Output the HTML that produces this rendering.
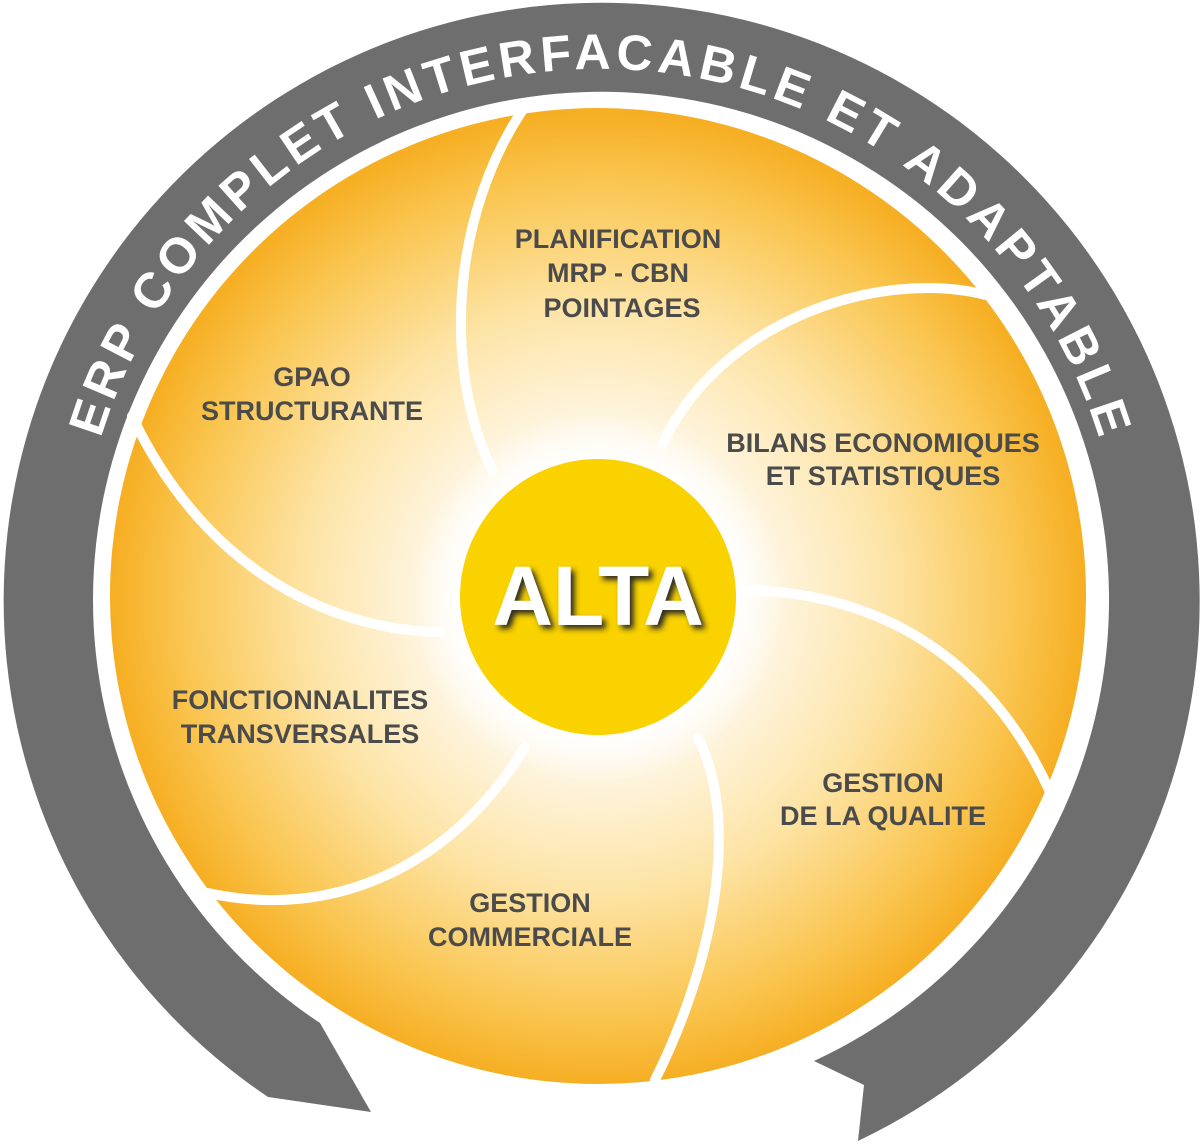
<!DOCTYPE html>
<html><head><meta charset="utf-8"><style>
html,body{margin:0;padding:0;background:#fff;width:1200px;height:1148px;overflow:hidden}
svg{display:block}
.l{font-family:"Liberation Sans",Arial,sans-serif;font-weight:bold;font-size:27px;fill:#4b4b4b;text-anchor:middle}
</style></head><body>
<svg width="1200" height="1148" viewBox="0 0 1200 1148" xmlns="http://www.w3.org/2000/svg">
<defs>
<radialGradient id="g" cx="598" cy="598" r="488" gradientUnits="userSpaceOnUse">
<stop offset="0" stop-color="#ffffff"/>
<stop offset="0.3" stop-color="#fffaf0"/>
<stop offset="0.6" stop-color="#fde4a6"/>
<stop offset="0.85" stop-color="#fac652"/>
<stop offset="1" stop-color="#f6ae22"/>
</radialGradient>
<radialGradient id="halo" cx="598" cy="598" r="185" gradientUnits="userSpaceOnUse">
<stop offset="0.7" stop-color="#fff" stop-opacity="1"/>
<stop offset="1" stop-color="#fff" stop-opacity="0"/>
</radialGradient>
<filter id="sh" x="-20%" y="-20%" width="140%" height="140%">
<feDropShadow dx="4" dy="4" stdDeviation="3" flood-color="#222" flood-opacity="0.95"/>
</filter>
<path id="tp" d="M 96 455 A 522 522 0 0 1 1104 455"/>
</defs>
<path d="M268 1097 A598 598 0 1 1 858 1141 L864 1085 L814 1061 A508 508 0 1 0 320 1023 L371 1112 Z" fill="#6e6e6e"/>
<text font-family="Liberation Sans,Arial,sans-serif" font-weight="bold" font-size="50" fill="#fff">
<textPath href="#tp" startOffset="50%" text-anchor="middle" textLength="1330" lengthAdjust="spacing">ERP COMPLET INTERFACABLE ET ADAPTABLE</textPath>
</text>
<circle cx="598" cy="596" r="488" fill="url(#g)"/>
<g fill="none" stroke="#fff" stroke-width="10" stroke-linecap="round">
<path d="M524 108 C455 210 440 360 492 470"/>
<path d="M986 295 C880 268 720 320 662 445"/>
<path d="M1050 792 C1000 680 900 590 737 590"/>
<path d="M655 1080 C715 960 740 820 698 738"/>
<path d="M208 893 C330 920 450 870 525 747"/>
<path d="M132 416 C200 560 320 630 440 632"/>
</g>
<circle cx="598" cy="596" r="185" fill="url(#halo)"/>
<circle cx="598" cy="597" r="138" fill="#f9d200"/>
<text x="598" y="625" text-anchor="middle" font-family="Liberation Sans,Arial,sans-serif" font-weight="bold" font-size="84" fill="#fff" filter="url(#sh)">ALTA</text>
<text class="l" x="618" y="248">PLANIFICATION</text>
<text class="l" x="618" y="282">MRP - CBN</text>
<text class="l" x="622" y="317">POINTAGES</text>
<text class="l" x="312" y="386">GPAO</text>
<text class="l" x="312" y="420">STRUCTURANTE</text>
<text class="l" x="883" y="452">BILANS ECONOMIQUES</text>
<text class="l" x="883" y="485">ET STATISTIQUES</text>
<text class="l" x="883" y="792">GESTION</text>
<text class="l" x="883" y="825">DE LA QUALITE</text>
<text class="l" x="530" y="912">GESTION</text>
<text class="l" x="530" y="946">COMMERCIALE</text>
<text class="l" x="300" y="709">FONCTIONNALITES</text>
<text class="l" x="300" y="743">TRANSVERSALES</text>
</svg>
</body></html>
